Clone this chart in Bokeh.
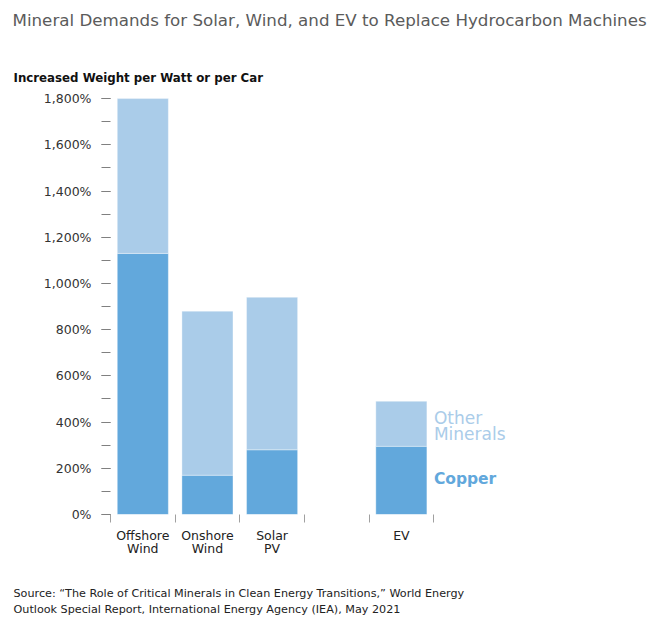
from bokeh.plotting import figure
from bokeh.models import FixedTicker, Range1d, Title, ColumnDataSource
from bokeh.core.properties import value
from bokeh.embed import file_html
from bokeh.resources import INLINE

# ---- data ----
categories = ["Offshore\nWind", "Onshore\nWind", "Solar\nPV", "EV"]
slots = [0.5, 1.5, 2.5, 4.5]
copper = [1130, 170, 280, 295]
total = [1800, 880, 940, 490]
other = [t - c for t, c in zip(total, copper)]
y_ticks = [0, 200, 400, 600, 800, 1000, 1200, 1400, 1600, 1800]
y_tick_labels = ["0%", "200%", "400%", "600%", "800%", "1,000%", "1,200%", "1,400%", "1,600%", "1,800%"]
y_minor = [0, 100, 200, 300, 400, 500, 600, 700, 800, 900, 1000, 1100, 1200, 1300, 1400, 1500, 1600, 1700, 1800]
slot_edges = [0, 1, 2, 3, 4, 5]
series_names = ["Copper", "Other\nMinerals"]

title_text = "Mineral Demands for Solar, Wind, and EV to Replace Hydrocarbon Machines"
subtitle_text = "Increased Weight per Watt or per Car"
source_lines = [
    "Source: \u201cThe Role of Critical Minerals in Clean Energy Transitions,\u201d World Energy",
    "Outlook Special Report, International Energy Agency (IEA), May 2021",
]

FONT = "DejaVu Sans"
COPPER_C = "#62a8dc"
OTHER_C = "#aacce9"
BAR_W = 0.79

src = ColumnDataSource(dict(x=slots, copper=copper, total=total, other=other, cat=categories))

p = figure(frame_width=530, frame_height=421,
           x_range=Range1d(0, 8.2), y_range=Range1d(0, 1822),
           output_backend="svg", toolbar_location=None,
           min_border_left=110, min_border_right=10, min_border_top=0, min_border_bottom=0)
p.outline_line_color = None
p.grid.visible = False

p.vbar(x="x", bottom=0, top="copper", width=BAR_W, source=src,
       fill_color=COPPER_C, line_color="#ffffff", line_alpha=0.35, line_width=1)
p.vbar(x="x", bottom="copper", top="total", width=BAR_W, source=src,
       fill_color=OTHER_C, line_color="#ffffff", line_alpha=0.35, line_width=1)

# series labels beside the EV bar
ev = 3
p.text(x=[slots[ev] + BAR_W / 2], y=[(copper[ev] + total[ev]) / 2], text=[series_names[1]],
       text_font=value(FONT), text_font_size="17px", text_color=OTHER_C,
       text_baseline="middle", text_align="left", x_offset=7, y_offset=2, text_line_height=0.78)
p.text(x=[slots[ev] + BAR_W / 2], y=[copper[ev] / 2], text=[series_names[0]],
       text_font=value(FONT), text_font_size="15.5px", text_font_style="bold", text_color=COPPER_C,
       text_baseline="middle", text_align="left", x_offset=7, y_offset=-1)

# y axis
ya = p.yaxis[0]
ya.ticker = FixedTicker(ticks=y_ticks, minor_ticks=y_minor)
ya.major_label_overrides = {t: l for t, l in zip(y_ticks, y_tick_labels)}
ya.axis_line_color = None
ya.major_tick_in = 0
ya.major_tick_out = 9
ya.minor_tick_in = 0
ya.minor_tick_out = 9
ya.major_tick_line_color = "#808080"
ya.minor_tick_line_color = "#808080"
ya.major_label_standoff = 10
ya.major_label_text_font = FONT
ya.major_label_text_font_size = "12.5px"
ya.major_label_text_color = "#333333"

# x axis
xa = p.xaxis[0]
xa.ticker = FixedTicker(ticks=slots, minor_ticks=slot_edges)
xa.major_label_overrides = {s: c for s, c in zip(slots, categories)}
xa.axis_line_color = None
xa.major_tick_in = 0
xa.major_tick_out = 0
xa.minor_tick_in = 0
xa.minor_tick_out = 8
xa.minor_tick_line_color = "#a0a0a0"
xa.major_label_standoff = 5
xa.major_label_text_font = FONT
xa.major_label_text_font_size = "12.5px"
xa.major_label_text_line_height = 0.9
xa.major_label_text_color = "#222222"

# titles (above: nearest the frame first)
sub = Title(text=subtitle_text, align="left", offset=-97, standoff=18,
            text_font=FONT, text_font_size="11.8px", text_font_style="bold", text_color="#111111")
p.add_layout(sub, "above")
p.add_layout(Title(text=" ", text_font_size="2px", standoff=18), "above")
main = Title(text=title_text, align="left", offset=-98, standoff=15,
             text_font=FONT, text_font_size="16.7px", text_font_style="normal", text_color="#5b5b5b")
p.add_layout(main, "above")

# source lines (below: nearest the frame first)
p.add_layout(Title(text=" ", text_font_size="2px", standoff=21), "below")
for i, line in enumerate(source_lines):
    t = Title(text=line, align="left", offset=-97, standoff=0 if i == 0 else 2,
              text_font=FONT, text_font_size="11.2px", text_font_style="normal", text_color="#222222")
    p.add_layout(t, "below")

open("out.html", "w").write(file_html(p, INLINE))
